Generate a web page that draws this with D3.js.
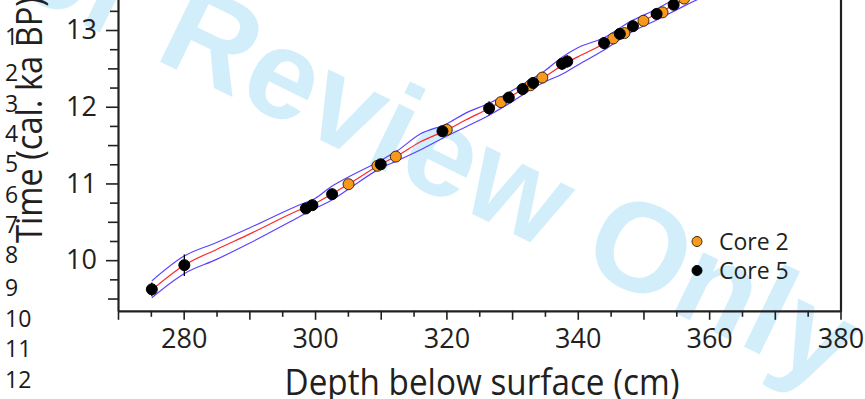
<!DOCTYPE html>
<html>
<head>
<meta charset="utf-8">
<script src="https://cdn.jsdelivr.net/npm/d3@7"></script>
<style>
  html, body { margin: 0; padding: 0; background: #fff; }
  svg { display: block; }
</style>
</head>
<body>
<svg id="chart" width="865" height="399"></svg>
<script>
// ---------------- data ----------------
const depthCore2 = [305.1, 309.5, 312.3, 320.05, 328.3, 332.8, 334.6, 345.4, 347.1, 350.0, 352.9, 356.2];
const ageCore2   = [10.99, 11.23, 11.35, 11.70, 12.06, 12.28, 12.38, 12.89, 12.96, 13.12, 13.23, 13.41];
const errCore2   = [0.06, 0.06, 0.06, 0.06, 0.06, 0.06, 0.06, 0.06, 0.06, 0.06, 0.06, 0.06];

const depthCore5 = [275.15, 280.1, 298.6, 299.6, 302.6, 310.0, 319.4, 326.5, 329.5, 331.6, 333.2, 337.6, 338.4, 344.0, 346.4, 348.4, 352.0, 354.6];
const ageCore5   = [9.62, 9.935, 10.674, 10.717, 10.86, 11.25, 11.68, 11.98, 12.12, 12.23, 12.31, 12.56, 12.59, 12.83, 12.95, 13.05, 13.21, 13.33];
const errCore5   = [0.09, 0.14, 0.06, 0.06, 0.07, 0.06, 0.07, 0.09, 0.07, 0.08, 0.07, 0.08, 0.08, 0.08, 0.07, 0.07, 0.07, 0.07];

const modelDepth   = [275.15, 280, 285, 290, 297.5, 300, 302.5, 305, 310, 312.5, 316, 320, 323, 326.5, 330, 333, 335, 337.5, 340, 344, 348, 352, 356, 362];
const modelMedian  = [9.61, 9.93, 10.14, 10.34, 10.65, 10.74, 10.86, 10.985, 11.25, 11.36, 11.54, 11.695, 11.83, 11.98, 12.145, 12.295, 12.39, 12.535, 12.65, 12.82, 13.03, 13.21, 13.385, 13.64];
const modelOlder   = [9.73, 10.05, 10.23, 10.42, 10.715, 10.805, 10.96, 11.08, 11.30, 11.425, 11.645, 11.775, 11.92, 12.045, 12.21, 12.36, 12.47, 12.64, 12.77, 12.90, 13.11, 13.275, 13.465, 13.73];
const modelYounger = [9.51, 9.82, 10.01, 10.22, 10.56, 10.675, 10.78, 10.92, 11.20, 11.295, 11.435, 11.615, 11.74, 11.89, 12.065, 12.23, 12.325, 12.42, 12.545, 12.74, 12.965, 13.13, 13.305, 13.55];

const xTickLabels = [280, 300, 320, 340, 360, 380];
const yTickLabels = [10, 11, 12, 13];
const legendLabels = ["Core 2", "Core 5"];
const lineNumbers = ["1","2","3","4","5","6","7","8","9","10","11","12"];
const xTitle = "Depth below surface (cm)";
const yTitle = "Time (cal. ka BP)";
const watermarkText = "For Review Only";

// ---------------- layout ----------------
const svg = d3.select("#chart");
const ink = "#231f20";
const left = 118, right = 841, bottom = 310.8;
const x = d3.scaleLinear().domain([270, 380]).range([left, 840.5]);
const y = d3.scaleLinear().domain([9.34, 14]).range([bottom, -46.7]);

// watermark (behind everything)
svg.append("text")
  .attr("transform", "translate(384,171) rotate(26)")
  .attr("text-anchor", "middle")
  .attr("font-family", "'Liberation Sans', Arial, sans-serif")
  .attr("font-weight", "bold")
  .attr("font-size", 127)
  .attr("fill", "#d3eefb")
  .text(watermarkText);

// axes
const xMinor = d3.range(270, 381, 5);
const xAxis = d3.axisBottom(x)
  .tickValues(xMinor)
  .tickSizeOuter(0)
  .tickPadding(12)
  .tickFormat(d => xTickLabels.includes(d) ? d : "");
const gx = svg.append("g").attr("transform", `translate(0,${bottom})`).call(xAxis);
gx.selectAll(".tick line").attr("y2", d => d % 10 === 0 ? 9 : 6);

const yMinor = d3.range(9.5, 13.8, 0.25);
const isInt = d => Math.abs(d - Math.round(d)) < 1e-9;
const yAxis = d3.axisLeft(y)
  .tickValues(yMinor)
  .tickSizeOuter(0)
  .tickPadding(9)
  .tickFormat(d => (isInt(d) && yTickLabels.includes(Math.round(d))) ? Math.round(d) : "");
const gy = svg.append("g").attr("transform", `translate(${left},0)`).call(yAxis);
gy.selectAll(".tick line").attr("x2", d => isInt(d) ? -12 : (isInt(d * 2) ? -10 : -8));
gy.selectAll(".tick text").attr("x", -21);

[gx, gy].forEach(g => {
  g.select(".domain").attr("stroke", ink).attr("stroke-width", 2.2);
  g.selectAll(".tick line").attr("stroke", ink).attr("stroke-width", 1.6);
  g.selectAll(".tick text").attr("fill", ink)
    .attr("font-family", "'Open Sans', sans-serif").attr("font-size", 27);
});
gx.selectAll(".tick text").attr("dy", "0.71em");

// right frame
svg.append("line")
  .attr("x1", right).attr("x2", right)
  .attr("y1", bottom + 1).attr("y2", -50)
  .attr("stroke", ink).attr("stroke-width", 2.2);

// model lines
const modelLine = arr => d3.line()
  .x((d, i) => x(modelDepth[i]))
  .y((d, i) => y(arr[i]))
  .curve(d3.curveMonotoneX)(arr);
svg.append("path").attr("d", modelLine(modelOlder)).attr("fill", "none").attr("stroke", "#5a42ff").attr("stroke-width", 1.2);
svg.append("path").attr("d", modelLine(modelYounger)).attr("fill", "none").attr("stroke", "#5a42ff").attr("stroke-width", 1.2);
svg.append("path").attr("d", modelLine(modelMedian)).attr("fill", "none").attr("stroke", "#ff2626").attr("stroke-width", 1.2);

// points
function drawCore(depths, ages, errs, fill, stroke) {
  const g = svg.append("g");
  g.selectAll("line").data(depths).join("line")
    .attr("x1", (d) => x(d)).attr("x2", (d) => x(d))
    .attr("y1", (d, i) => y(ages[i] + errs[i]))
    .attr("y2", (d, i) => y(ages[i] - errs[i]))
    .attr("stroke", "#000").attr("stroke-width", 1.3);
  g.selectAll("circle").data(depths).join("circle")
    .attr("cx", d => x(d)).attr("cy", (d, i) => y(ages[i]))
    .attr("r", 5.5)
    .attr("fill", fill).attr("stroke", stroke).attr("stroke-width", 1);
}
drawCore(depthCore2, ageCore2, errCore2, "#f8991d", "#3a2a10");
drawCore(depthCore5, ageCore5, errCore5, "#000", "#000");

// legend
const legend = svg.append("g").attr("transform", "translate(697,0)");
const legendFill = ["#f8991d", "#000"];
const legendStroke = ["#3a2a10", "#000"];
const legendY = [241.5, 270.5];
legendLabels.forEach((lab, i) => {
  legend.append("circle").attr("cx", 0).attr("cy", legendY[i]).attr("r", 5)
    .attr("fill", legendFill[i]).attr("stroke", legendStroke[i]).attr("stroke-width", 1);
  legend.append("text").attr("x", 22).attr("y", legendY[i] + 8.3)
    .attr("font-family", "'Open Sans', sans-serif").attr("font-size", 23)
    .attr("fill", ink).text(lab);
});

// axis titles
svg.append("text")
  .attr("x", 482).attr("y", 395)
  .attr("text-anchor", "middle")
  .attr("font-family", "'Open Sans', sans-serif").attr("font-size", 37)
  .attr("textLength", 395).attr("lengthAdjust", "spacingAndGlyphs")
  .attr("fill", ink).text(xTitle);
svg.append("text")
  .attr("transform", "translate(42,120) rotate(-90)")
  .attr("text-anchor", "middle")
  .attr("font-family", "'Open Sans', sans-serif").attr("font-size", 37)
  .attr("textLength", 246).attr("lengthAdjust", "spacingAndGlyphs")
  .attr("fill", ink).text(yTitle);

// manuscript line numbers
const lineNumberY = [45, 81, 112, 142, 172, 203, 233, 263, 296, 327, 357, 388];
lineNumbers.forEach((n, i) => {
  svg.append("text").attr("x", 5).attr("y", lineNumberY[i])
    .attr("font-family", "'Open Sans', sans-serif").attr("font-size", 23)
    .attr("fill", "#1a1a1a").text(n);
});
</script>
</body>
</html>
